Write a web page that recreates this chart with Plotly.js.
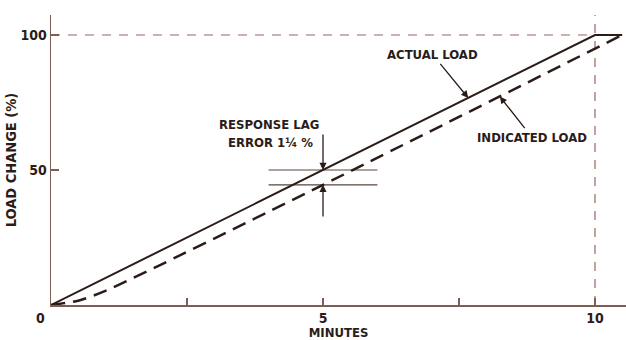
<!DOCTYPE html>
<html>
<head>
<meta charset="utf-8">
<script src="https://cdn.plot.ly/plotly-3.0.1.min.js"></script>
<style>html,body{margin:0;padding:0;background:#fff;}#chart{width:626px;height:340px;}</style>
</head>
<body>
<div id="chart"></div>
<script>
// Data
const actualX = [0, 10, 10.5];
const actualY = [0, 100, 100];
const indicatedX = [0, 0.5, 1, 5, 10.5];
const indicatedY = [0, 1.6, 5.2, 44.5, 100];
const refTopX = [0, 10];
const refTopY = [100, 100];
const refVertX = [10, 10];
const refVertY = [0, 107.4];
const lagX = [4, 6];
const lagActualY = [50, 50];
const lagIndicatedY = [44.5, 44.5];
const xTickVals = [0, 2.5, 5, 7.5, 10];
const xTickText = ['', '', '5', '', '10'];
const yTickVals = [50, 100];
const yTickText = ['50', '100'];

const ink = '#2b1c18';
const refCol = '#94695f';
const axisCol = '#7d5e54';
const font = {family: 'DejaVu Sans Condensed', size: 13, color: ink, weight: 'bold'};

const traces = [
  {x: refTopX, y: refTopY, mode: 'lines', line: {color: refCol, width: 1.2, dash: '9px,8px'}, hoverinfo: 'skip'},
  {x: refVertX, y: refVertY, mode: 'lines', line: {color: refCol, width: 1.2, dash: '9px,8px'}, hoverinfo: 'skip'},
  {x: lagX, y: lagActualY, mode: 'lines', line: {color: '#5a443c', width: 1.2}, hoverinfo: 'skip'},
  {x: lagX, y: lagIndicatedY, mode: 'lines', line: {color: '#5a443c', width: 1.2}, hoverinfo: 'skip'},
  {x: actualX, y: actualY, mode: 'lines', name: 'ACTUAL LOAD', line: {color: ink, width: 2}},
  {x: indicatedX, y: indicatedY, mode: 'lines', name: 'INDICATED LOAD', line: {color: ink, width: 2.5, dash: '14px,8px', shape: 'spline', smoothing: 0.6}}
];

const arrow = {showarrow: true, arrowhead: 2, arrowsize: 1.1, arrowwidth: 1.3, arrowcolor: ink, axref: 'x', ayref: 'y'};

const layout = {
  width: 626, height: 340,
  margin: {l: 51, r: 0, t: 15, b: 35},
  paper_bgcolor: '#fff', plot_bgcolor: '#fff',
  showlegend: false,
  font: font,
  xaxis: {
    range: [0, 10.57], tickvals: xTickVals, ticktext: xTickText,
    ticks: 'inside', ticklen: 7, tickwidth: 1.2, tickcolor: axisCol,
    showline: true, linecolor: axisCol, linewidth: 1.5,
    showgrid: false, zeroline: false, fixedrange: true,
    tickfont: {family: 'DejaVu Sans Condensed', size: 14, color: ink, weight: 'bold'},
    title: {text: 'MINUTES', font: {family: 'DejaVu Sans Condensed', size: 13, color: ink, weight: 'bold'}, standoff: 3}
  },
  yaxis: {
    range: [0, 107.4], tickvals: yTickVals, ticktext: yTickText,
    ticks: 'inside', ticklen: 8, tickwidth: 1.2, tickcolor: axisCol,
    showline: true, linecolor: axisCol, linewidth: 1.5,
    showgrid: false, zeroline: false, fixedrange: true,
    tickfont: {family: 'DejaVu Sans Condensed', size: 14, color: ink, weight: 'bold'},
    title: {text: 'LOAD CHANGE (%)', font: {family: 'DejaVu Sans Condensed', size: 14.5, color: ink, weight: 'bold'}, standoff: 0}
  },
  annotations: [
    {xref: 'paper', yref: 'paper', x: -0.0174, y: 0, yshift: -13, text: '0', showarrow: false, xanchor: 'center', yanchor: 'middle', font: {family: 'DejaVu Sans Condensed', size: 14, color: ink, weight: 'bold'}},
    Object.assign({x: 7.67, y: 76.7, ax: 7.02, ay: 92.6, text: 'ACTUAL LOAD', font: font}, arrow),
    Object.assign({x: 8.25, y: 77.2, ax: 8.84, ay: 62.2, text: 'INDICATED LOAD', font: font}, arrow),
    {x: 4.0, y: 66.7, text: 'RESPONSE LAG', showarrow: false, font: font},
    {x: 4.04, y: 60, text: 'ERROR 1¼ %', showarrow: false, font: font},
    Object.assign({x: 5, y: 50, ax: 5, ay: 63.7, text: ''}, arrow),
    Object.assign({x: 5, y: 44.5, ax: 5, ay: 32.2, text: ''}, arrow)
  ]
};

Plotly.newPlot('chart', traces, layout, {displayModeBar: false, staticPlot: true});
</script>
</body>
</html>
